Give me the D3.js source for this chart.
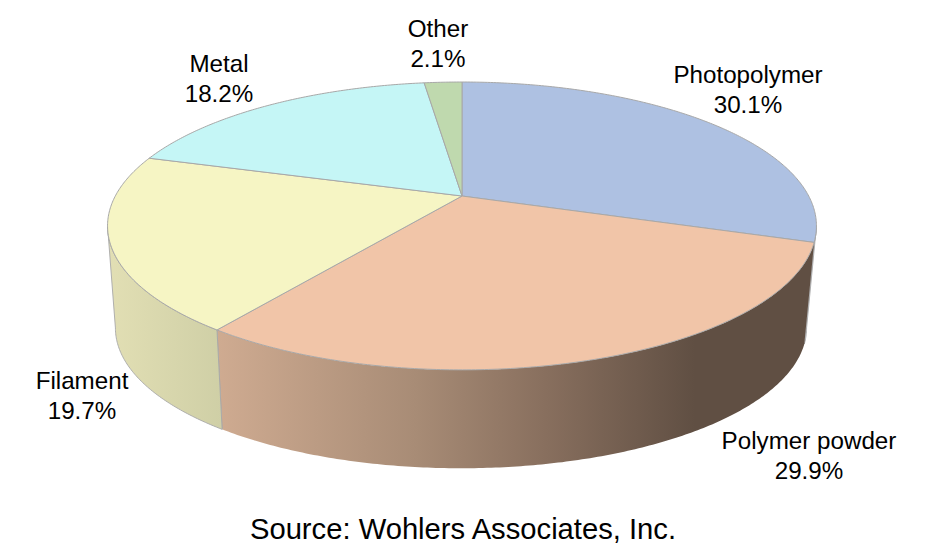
<!DOCTYPE html>
<html>
<head>
<meta charset="utf-8">
<script src="https://cdn.jsdelivr.net/npm/d3@7/dist/d3.min.js"></script>
<style>
html,body{margin:0;padding:0;background:#fff;}
svg{display:block;}
text{font-family:"Liberation Sans",Arial,sans-serif;fill:#000;}
</style>
</head>
<body>
<svg id="chart" width="938" height="560"></svg>
<script>
const categories = ["Photopolymer", "Polymer powder", "Filament", "Metal", "Other"];
const shares = [30.1, 29.9, 19.7, 18.2, 2.1];
const shareLabels = ["30.1%", "29.9%", "19.7%", "18.2%", "2.1%"];

const topColors = ["#aec1e2", "#f1c5a8", "#f6f5c4", "#c5f6f6", "#bfd9ae"];
const wallStops = [
  [[0, "#c4c9d2"], [1, "#c4c9d2"]],
  [[0, "#cfab91"], [0.33, "#a88c76"], [0.55, "#886f5e"], [0.8, "#604f43"], [1, "#604f43"]],
  [[0, "#e2dfb4"], [1, "#cfcfa6"]]
];
const labelAnchors = [[748, 83], [809, 449], [82, 389], [219, 72], [438, 37]];

const W = 938, H = 560;
const cx = 462, cy = 196;
const k = 0.208, Ax = 346.7, Ay = 137.7;
const wallDrop = 102, wallShrink = 0.975, ellipseMidY = 226;
const svg = d3.select("#chart");
const defs = svg.append("defs");

function project(a) {
  const u = Math.sin(a), v = Math.cos(a), w = 1 + k * v;
  return [cx + Ax * u / w, cy - Ay * v / w];
}
function projectLow(a) {
  const [x, y] = project(a);
  return [cx - 1 + (x - cx) * wallShrink, ellipseMidY + wallDrop + (y - ellipseMidY) * wallShrink];
}
function sample(a0, a1) {
  const n = Math.max(2, Math.ceil(Math.abs(a1 - a0) / 0.01));
  return d3.range(n + 1).map(i => a0 + (a1 - a0) * i / n);
}
const line = d3.line();
const arcs = d3.pie().sort(null).value(d => d)(shares);

const leftTangent = 2 * Math.PI - Math.acos(-k);
const rightTangent = Math.acos(-k);

// walls (front half only, clipped to the silhouette tangents)
const wallGroup = svg.append("g");
arcs.forEach((d, i) => {
  const a0 = Math.max(d.startAngle, rightTangent);
  const a1 = Math.min(d.endAngle, leftTangent);
  if (a1 <= a0) return;
  const ptsTop = sample(a0, a1).map(project);
  const ptsLow = sample(a1, a0).map(projectLow);
  const all = ptsTop.concat(ptsLow);
  const ext = d3.extent(all, p => p[0]);
  const id = "wall" + i;
  const grad = defs.append("linearGradient").attr("id", id)
    .attr("gradientUnits", "userSpaceOnUse")
    .attr("x1", ext[0]).attr("x2", ext[1]).attr("y1", 0).attr("y2", 0);
  wallStops[i].forEach(s => grad.append("stop").attr("offset", s[0]).attr("stop-color", s[1]));
  wallGroup.append("path")
    .attr("d", line(all) + "Z")
    .attr("fill", `url(#${id})`)
    .attr("stroke", i === 1 ? "none" : "#a8a8a8")
    .attr("stroke-width", 0.9);
  if (i === 1) {
    wallGroup.append("path")
      .attr("d", line([project(d.endAngle), projectLow(d.endAngle)]))
      .attr("stroke", "#a8a8a8").attr("fill", "none").attr("stroke-width", 1);
  }
});

// top faces
svg.append("g").selectAll("path").data(arcs).join("path")
  .attr("d", d => line([[cx, cy]].concat(sample(d.startAngle, d.endAngle).map(project))) + "Z")
  .attr("fill", (d, i) => topColors[i])
  .attr("stroke", "#a8a8a8")
  .attr("stroke-width", 1)
  .attr("stroke-linejoin", "round");

// labels
const fs = 24.2;
const lab = svg.append("g").attr("text-anchor", "middle").attr("font-size", fs);
categories.forEach((c, i) => {
  const t = lab.append("text").attr("x", labelAnchors[i][0]).attr("y", labelAnchors[i][1]);
  t.append("tspan").attr("x", labelAnchors[i][0]).text(c);
  t.append("tspan").attr("x", labelAnchors[i][0]).attr("dy", 30).text(shareLabels[i]);
});

svg.append("text").attr("x", 463).attr("y", 539).attr("text-anchor", "middle")
  .attr("font-size", 29.2).text("Source: Wohlers Associates, Inc.");
</script>
</body>
</html>
